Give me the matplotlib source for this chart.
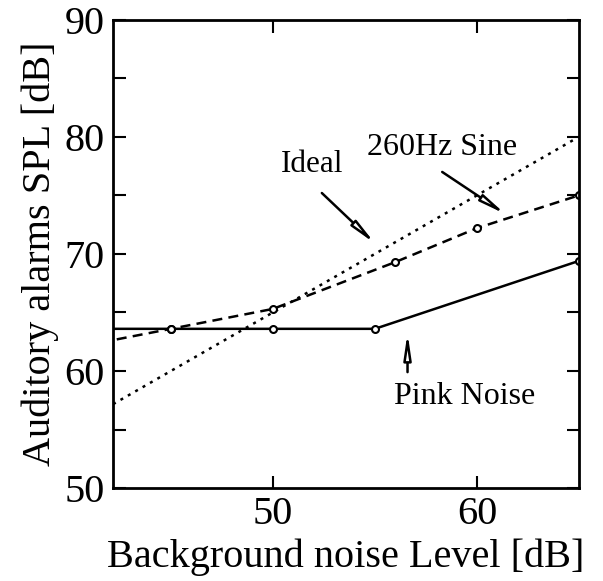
import numpy as np
import matplotlib.pyplot as plt

plt.rcParams['font.family'] = ['Liberation Serif', 'DejaVu Serif']

# data
pink_x = [40, 45, 50, 55, 65]
pink_y = [63.6, 63.6, 63.6, 63.6, 69.4]
sine_x = [40, 45, 50, 56, 60, 65]
sine_y = [61.9, 63.6, 65.3, 69.3, 72.2, 75.0]
ideal_x = [40, 65]
ideal_y = [55, 80]

fig = plt.figure(figsize=(6.03, 5.81), dpi=100)
ax = fig.add_axes([0.187, 0.160, 0.773, 0.806])

ax.plot(ideal_x, ideal_y, color='black', lw=1.8, linestyle=(0, (1.2, 2.2)))
ax.plot(sine_x, sine_y, color='black', lw=1.8, linestyle=(0, (4, 2.5)),
        marker='o', markersize=5, mfc='white', mec='black', mew=1.5, markevery=[1, 2, 3, 4, 5])
ax.plot(pink_x, pink_y, color='black', lw=1.8,
        marker='o', markersize=5, mfc='white', mec='black', mew=1.5, markevery=[1, 2, 3, 4])

ax.set_xlim(42.15, 65)
ax.set_ylim(50, 90)
ax.set_xticks([50, 60])
ax.set_yticks([50, 60, 70, 80, 90])
ax.set_yticks([55, 65, 75, 85], minor=True)
ax.tick_params(which='both', direction='in', top=True, right=True, width=1.5,
               labelsize=29, pad=6)
ax.tick_params(which='major', length=9)
ax.tick_params(which='minor', length=9)
for s in ax.spines.values():
    s.set_linewidth(2)

ax.set_xlabel('Background noise Level [dB]', fontsize=29, labelpad=4)
ax.set_ylabel('Auditory alarms SPL [dB]', fontsize=29, labelpad=4)

arrow = dict(arrowstyle='-|>,head_length=1.5,head_width=0.22', fc='white', ec='black',
             lw=1.8, shrinkA=0, shrinkB=0)
ax.annotate('', xy=(55.0, 70.9), xytext=(52.4, 75.2), arrowprops=arrow)
ax.text(51.9, 77.6, 'Ideal', fontsize=22.5, ha='center', va='center')
ax.annotate('', xy=(61.4, 73.4), xytext=(58.3, 77.0), arrowprops=arrow)
ax.text(58.3, 79.1, '260Hz Sine', fontsize=23, ha='center', va='center')
ax.annotate('', xy=(56.6, 63.25), xytext=(56.6, 59.9), arrowprops=arrow)
ax.text(59.4, 57.8, 'Pink Noise', fontsize=23, ha='center', va='center')

fig.savefig('out.png', dpi=100)
